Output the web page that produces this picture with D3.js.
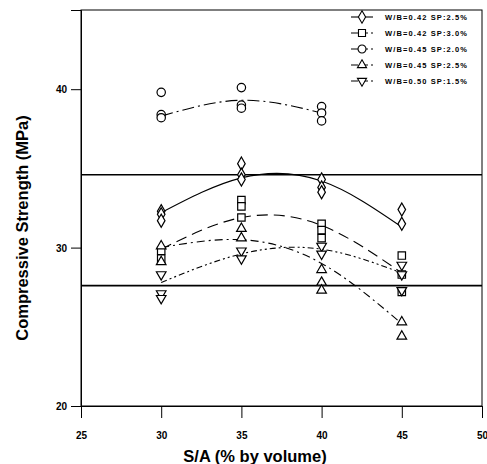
<!DOCTYPE html>
<html><head><meta charset="utf-8">
<script src="https://cdn.jsdelivr.net/npm/d3@7"></script>
<style>
body{margin:0;background:#fff;}
text{font-family:"Liberation Sans",Arial,sans-serif;font-weight:bold;fill:#000;}
</style></head>
<body><svg id="c" width="487" height="464"></svg>
<script>
// ---- data ----
const xTicks = [25, 30, 35, 40, 45, 50];
const yTicks = [20, 30, 40];
const refLines = [34.6, 27.6];
const seriesNames = ["W/B=0.42  SP:2.5%", "W/B=0.42  SP:3.0%", "W/B=0.45  SP:2.0%", "W/B=0.45  SP:2.5%", "W/B=0.50  SP:1.5%"];
// measured points [S/A, strength]
const ptsD = [[30,32.3],[30,32.1],[30,31.7],[35,35.3],[35,34.6],[35,34.3],[40,34.3],[40,33.8],[40,33.5],[45,32.4],[45,31.5]];
const ptsS = [[30,29.8],[30,29.3],[35,33.0],[35,32.6],[35,31.9],[40,31.5],[40,31.1],[40,30.6],[45,29.5],[45,28.3],[45,27.2]];
const ptsC = [[30,39.8],[30,38.4],[30,38.2],[35,40.1],[35,39.0],[35,38.8],[40,38.9],[40,38.5],[40,38.0]];
const ptsU = [[30,30.1],[30,29.1],[35,31.2],[35,30.6],[40,28.6],[40,27.8],[40,27.3],[45,25.3],[45,24.4]];
const ptsV = [[30,28.3],[30,27.1],[30,26.8],[35,29.8],[35,29.3],[40,30.1],[40,29.6],[45,28.9],[45,28.3],[45,27.3]];
// fitted trend curves
const fitD = [[30,32.2],[35,34.4],[40,34.2],[45,31.3]];
const fitS = [[30,29.9],[35,31.9],[40,31.4],[45,28.4]];
const fitC = [[30,38.3],[35,39.3],[40,38.5]];
const fitU = [[30,30.0],[35,30.5],[40,29.0],[45,25.2]];
const fitV = [[30,27.8],[35,29.6],[40,29.9],[45,28.4]];

const series = [
  {name: seriesNames[0], pts: ptsD, fit: fitD, sym: d3.symbolDiamond, size: 50, dash: null},
  {name: seriesNames[1], pts: ptsS, fit: fitS, sym: d3.symbolSquare, size: 55, dash: "11,6"},
  {name: seriesNames[2], pts: ptsC, fit: fitC, sym: d3.symbolCircle, size: 55, dash: "12,4,2,4"},
  {name: seriesNames[3], pts: ptsU, fit: fitU, sym: d3.symbolTriangle, size: 40, dash: "8,4,2,4"},
  {name: seriesNames[4], pts: ptsV, fit: fitV, sym: d3.symbolTriangle, size: 40, dash: "6,3,2,3,2,3", flip: true}
];

const svg = d3.select("#c");
const L = 81, R = 482, T = 10, B = 406;
const x = d3.scaleLinear().domain([25, 50]).range([L, R]);
const y = d3.scaleLinear().domain([20, 45]).range([B, T]);

// frame
svg.append("rect").attr("x", L).attr("y", T).attr("width", R - L).attr("height", B - T)
  .attr("fill", "none").attr("stroke", "#000").attr("stroke-width", 1);

// axes
const xa = svg.append("g").attr("transform", `translate(0,${B})`)
  .call(d3.axisBottom(x).tickValues(xTicks).tickSize(12).tickPadding(14).tickFormat(d3.format("d")));
const ya = svg.append("g").attr("transform", `translate(${L},0)`)
  .call(d3.axisLeft(y).tickValues(yTicks).tickSize(10).tickPadding(4).tickFormat(d3.format("d")));
[xa, ya].forEach(g => {
  g.select(".domain").attr("stroke", "#000");
  g.selectAll(".tick line").attr("stroke", "#000");
  g.selectAll(".tick text").style("font-size", "10px").style("font-weight", "bold")
    .style("font-family", "Liberation Sans, Arial, sans-serif");
});
ya.selectAll(".tick text").attr("dy", "0.35em");

// reference lines
svg.selectAll(".ref").data(refLines).enter().append("line")
  .attr("x1", L).attr("x2", R).attr("y1", d => y(d)).attr("y2", d => y(d))
  .attr("stroke", "#000").attr("stroke-width", 1.6);

// fit curves
const line = d3.line().x(d => x(d[0])).y(d => y(d[1])).curve(d3.curveNatural);
series.forEach(s => {
  svg.append("path").attr("d", line(s.fit)).attr("fill", "none")
    .attr("stroke", "#000").attr("stroke-width", 1.1)
    .attr("stroke-dasharray", s.dash);
});

// markers
function sym(s) { return d3.symbol().type(s.sym).size(s.size)(); }
series.forEach(s => {
  svg.append("g").selectAll("path").data(s.pts).enter().append("path")
    .attr("d", sym(s))
    .attr("transform", d => `translate(${x(d[0])},${y(d[1])})` + (s.flip ? " rotate(180)" : ""))
    .attr("fill", "#fff").attr("stroke", "#000").attr("stroke-width", 1.2);
});

// legend
const lg = svg.append("g");
const lx = 362, ly0 = 17, ldy = 16;
series.forEach((s, i) => {
  const yy = ly0 + i * ldy;
  lg.append("line").attr("x1", lx - 11).attr("x2", lx + 11).attr("y1", yy).attr("y2", yy)
    .attr("stroke", "#000").attr("stroke-width", 1.1).attr("stroke-dasharray", s.dash ? "7,3" : null);
  lg.append("path").attr("d", d3.symbol().type(s.sym).size(s.size * 0.9)())
    .attr("transform", `translate(${lx},${yy})` + (s.flip ? " rotate(180)" : ""))
    .attr("fill", "#fff").attr("stroke", "#000").attr("stroke-width", 1.1);
  lg.append("text").attr("x", lx + 23).attr("y", yy).attr("dy", "0.35em")
    .attr("textLength", 82).attr("lengthAdjust", "spacing")
    .style("font-size", "7.5px").text(s.name);
});

// axis titles
svg.append("text").attr("x", 255).attr("y", 462).attr("text-anchor", "middle")
  .style("font-size", "16.5px").text("S/A (% by volume)");
svg.append("text").attr("transform", `translate(28,228) rotate(-90)`)
  .attr("text-anchor", "middle").style("font-size", "16.5px").text("Compressive Strength (MPa)");
</script></body></html>
